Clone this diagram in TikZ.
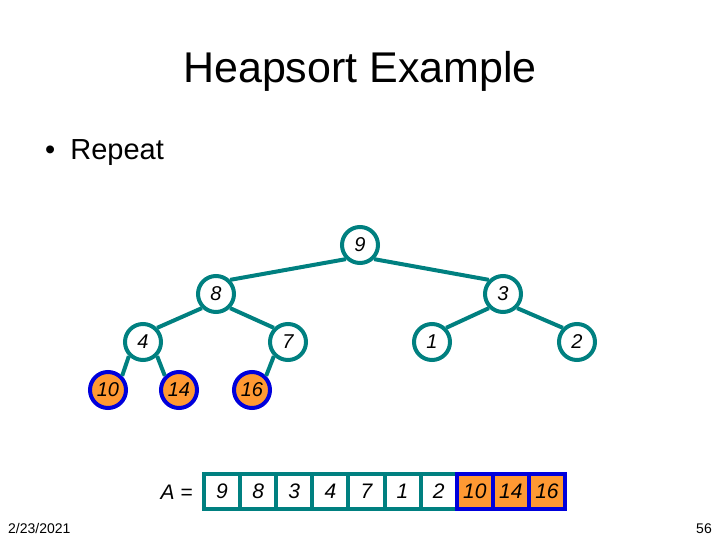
\documentclass[tikz,border=0pt]{standalone}
\usepackage{fontspec}
\setmainfont{Liberation Sans}
\definecolor{teal}{RGB}{0,128,128}
\definecolor{hblue}{RGB}{0,0,220}
\definecolor{horange}{RGB}{255,153,51}
\begin{document}
\begin{tikzpicture}[x=1pt,y=-1pt,
  hnode/.style={circle,draw=teal,line width=4pt,fill=white,minimum size=36pt,inner sep=0pt,font=\fontsize{20}{20}\selectfont\itshape},
  snode/.style={hnode,draw=hblue,fill=horange},
  edge/.style={draw=teal,line width=4pt},
  cell/.style={rectangle,draw=teal,line width=4pt,fill=white,minimum width=36.1pt,minimum height=35pt,inner sep=0pt,font=\fontsize{21}{21}\selectfont\itshape},
  scell/.style={cell,draw=hblue,fill=horange}]
\useasboundingbox (0,0) rectangle (720,540);
% title and text
\node[anchor=base,inner sep=0pt,font=\fontsize{43}{43}\selectfont] (title) at (360,83) {Heapsort Example};
\node[anchor=base west,inner sep=0pt,font=\fontsize{29}{29}\selectfont] (bul) at (45,160) {•\hspace{15pt}Repeat};
\node[anchor=base west,inner sep=0pt,font=\fontsize{14}{14}\selectfont] (date) at (8,533) {2/23/2021};
\node[anchor=base east,inner sep=0pt,font=\fontsize{14}{14}\selectfont] (page) at (712,533) {56};
% tree
\node[hnode] (n9) at (360,245) {9};
\node[hnode] (n8) at (216,294) {8};
\node[hnode] (n3) at (503,294) {3};
\node[hnode] (n4) at (143,342) {4};
\node[hnode] (n7) at (288,342) {7};
\node[hnode] (n1) at (432,342) {1};
\node[hnode] (n2) at (577,342) {2};
\node[snode] (n10) at (108,390) {10};
\node[snode] (n14) at (179,390) {14};
\node[snode] (n16) at (252,390) {16};
\draw[edge] (n9.south west) -- (n8.north east);
\draw[edge] (n9.south east) -- (n3.north west);
\draw[edge] (n8.south west) -- (n4.north east);
\draw[edge] (n8.south east) -- (n7.north west);
\draw[edge] (n3.south west) -- (n1.north east);
\draw[edge] (n3.south east) -- (n2.north west);
\draw[edge] (n4.south west) -- (n10.north east);
\draw[edge] (n4.south east) -- (n14.north west);
\draw[edge] (n7.south west) -- (n16.north east);
% array
\node[anchor=base east,inner sep=0pt,font=\fontsize{21}{21}\selectfont] (lbl) at (193,499) {\textit{A} =};
\foreach \v [count=\i from 0] in {9,8,3,4,7,1,2} {
  \node[cell] (c\i) at ({204+36.1*(\i+0.5)},491.5) {\v};
}
\foreach \v [count=\i from 7] in {10,14,16} {
  \node[scell] (c\i) at ({204+36.1*(\i+0.5)},491.5) {\v};
}
\end{tikzpicture}
\end{document}
